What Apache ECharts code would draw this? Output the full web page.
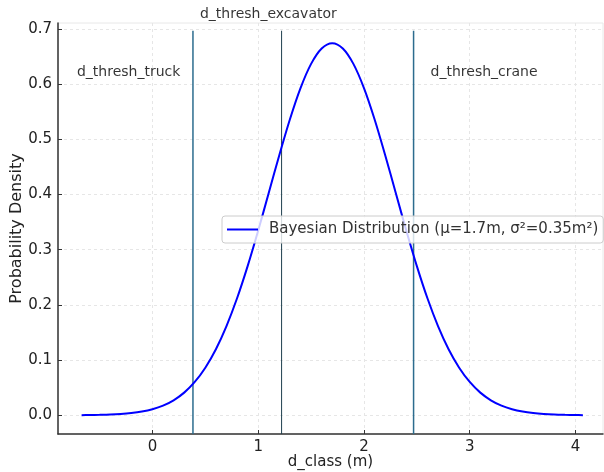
<!DOCTYPE html>
<html>
<head>
<meta charset="utf-8">
<script src="https://cdn.jsdelivr.net/npm/echarts@6/dist/echarts.min.js"></script>
<style>
  html, body { margin: 0; padding: 0; background: #fff; }
  #chart { width: 604px; height: 472px; }
</style>
</head>
<body>
<div id="chart"></div>
<script>
// values
var xs = [-0.67, -0.6, -0.5, -0.4, -0.3, -0.2, -0.1, 0.0, 0.1, 0.2, 0.3, 0.4, 0.5, 0.6, 0.7, 0.8, 0.9,
  1.0, 1.1, 1.2, 1.3, 1.4, 1.5, 1.6, 1.7, 1.8, 1.9, 2.0, 2.1, 2.2, 2.3, 2.4, 2.5, 2.6, 2.7, 2.8,
  2.9, 3.0, 3.1, 3.2, 3.3, 3.4, 3.5, 3.6, 3.7, 3.8, 3.9, 4.0, 4.07]
var density = [0.0002, 0.0004, 0.0007, 0.0012, 0.0022, 0.0039, 0.0066, 0.0109, 0.0174, 0.0271, 0.0410,
  0.0603, 0.0862, 0.1197, 0.1616, 0.2120, 0.2703, 0.3349, 0.4033, 0.4719, 0.5366, 0.5930, 0.6369,
  0.6648, 0.6744, 0.6648, 0.6369, 0.5930, 0.5366, 0.4719, 0.4033, 0.3349, 0.2703, 0.2120, 0.1616,
  0.1197, 0.0862, 0.0603, 0.0410, 0.0271, 0.0174, 0.0109, 0.0066, 0.0039, 0.0022, 0.0012, 0.0007,
  0.0004, 0.0002]
var thresholdNames = ['d_thresh_truck', 'd_thresh_excavator', 'd_thresh_crane']
var thresholds = [0.383, 1.221, 2.469]
var labelPos = [[-0.714, 0.622], [0.449, 0.727], [2.63, 0.622]]
var xTicks = [0, 1, 2, 3, 4]
var yTicks = [0, 0.1, 0.2, 0.3, 0.4, 0.5, 0.6, 0.7]
var seriesName = 'Bayesian Distribution (μ=1.7m, σ²=0.35m²)'

var font = 'DejaVu Sans'
var yMin = -0.034
var yMax = 0.711
var lineTop = 0.697

var chart = echarts.init(document.getElementById('chart'))

var series = [{
  name: seriesName,
  type: 'line',
  data: xs.map(function (x, i) { return [x, density[i]] }),
  smooth: 0.3,
  showSymbol: false,
  lineStyle: { color: '#0000ff', width: 2 },
  itemStyle: { color: '#0000ff' },
  z: 3
}]

thresholds.forEach(function (t, i) {
  series.push({
    name: thresholdNames[i],
    type: 'line',
    data: [[t, yMin], [t, lineTop]],
    showSymbol: false,
    lineStyle: i === 1 ? { color: '#1f3f4f', width: 1 } : { color: '#2c6c8e', width: 1.5 },
    z: 2
  })
})

series.push({
  type: 'scatter',
  symbolSize: 0,
  clip: false,
  data: labelPos.map(function (p, i) { return { value: p, name: thresholdNames[i] } }),
  label: {
    show: true,
    position: 'right',
    distance: 0,
    formatter: '{b}',
    color: '#000',
    fontFamily: font,
    fontSize: 14
  },
  silent: true
})

chart.setOption({
  animation: false,
  grid: {
    left: 58, right: 1, top: 23, bottom: 38,
    outerBoundsMode: 'none',
    show: true, borderColor: '#e8e8e8', borderWidth: 1
  },
  legend: {
    data: [seriesName],
    left: 222,
    top: 216,
    icon: 'rect',
    itemWidth: 31,
    itemHeight: 2,
    padding: [6, 5, 6, 5],
    backgroundColor: 'rgba(255,255,255,0.8)',
    borderColor: '#cccccc',
    borderWidth: 1,
    borderRadius: 3,
    textStyle: { color: '#333', fontFamily: font, fontSize: 15, padding: [0, 0, 0, 6] }
  },
  xAxis: {
    type: 'value',
    min: -0.893,
    max: 4.26,
    name: 'd_class (m)',
    nameLocation: 'middle',
    nameGap: 21,
    nameMoveOverlap: false,
    nameTextStyle: { color: '#222', fontFamily: font, fontSize: 15 },
    axisLine: { show: true, onZero: false, lineStyle: { color: '#333', width: 1.5 } },
    axisTick: { show: true, inside: true, length: 4, customValues: xTicks, lineStyle: { color: '#333' } },
    axisLabel: { customValues: xTicks, color: '#222', fontFamily: font, fontSize: 15, margin: 6 },
    splitLine: { show: true, lineStyle: { color: '#e6e6e6', type: [3, 3] } }
  },
  yAxis: {
    type: 'value',
    min: yMin,
    max: yMax,
    name: 'Probability Density',
    nameLocation: 'middle',
    nameGap: 33,
    nameMoveOverlap: false,
    nameTextStyle: { color: '#222', fontFamily: font, fontSize: 16 },
    axisLine: { show: true, onZero: false, lineStyle: { color: '#333', width: 1.5 } },
    axisTick: { show: true, inside: true, length: 4, customValues: yTicks, lineStyle: { color: '#333' } },
    axisLabel: {
      customValues: yTicks, color: '#222', fontFamily: font, fontSize: 15, margin: 6,
      formatter: function (v) { return v.toFixed(1) }
    },
    splitLine: { show: true, lineStyle: { color: '#e6e6e6', type: [3, 3] } }
  },
  series: series
})
</script>
</body>
</html>
